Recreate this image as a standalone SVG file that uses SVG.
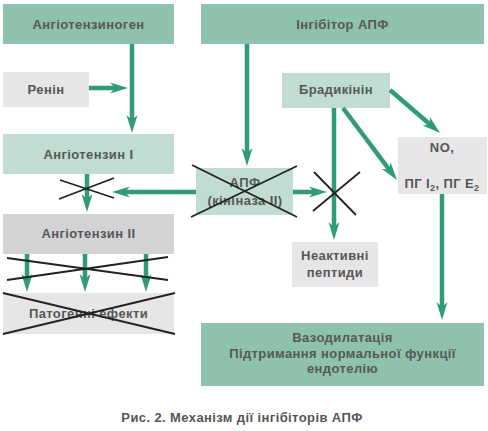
<svg xmlns="http://www.w3.org/2000/svg" width="488" height="431" viewBox="0 0 488 431">
<defs>
<style>
.dk{fill:#8fc2ad}
.lt{fill:#c1ddd1}
.gr{fill:#e6e6e6}
.g2{fill:#d3d3d5}
text{font-family:"Liberation Sans",Arial,sans-serif;font-weight:bold;font-size:13px;fill:#575757;text-anchor:middle;letter-spacing:0.4px}
.ar{stroke:#2f9b79;stroke-width:4.5;fill:none;marker-end:url(#ah)}
.x{stroke:#222;stroke-width:1.8;fill:none}
</style>
<marker id="ah" markerUnits="userSpaceOnUse" markerWidth="20" markerHeight="14" refX="8" refY="6" orient="auto" overflow="visible">
<path d="M0,0.5 L18,6 L0,11.5 L5,6 Z" fill="#2f9b79"/>
</marker>
</defs>
<rect width="488" height="431" fill="#fff"/>

<g id="angiotensinogen"><rect class="dk" x="3" y="4" width="171" height="40"/><text x="88.5" y="28.5">Ангіотензиноген</text></g>
<g id="inhibitor"><rect class="dk" x="201" y="4" width="283" height="40"/><text x="342.5" y="28.5">Інгібітор АПФ</text></g>
<g id="renin"><rect class="gr" x="3" y="72" width="86" height="35"/><text x="46" y="93.5">Ренін</text></g>
<g id="bradykinin"><rect class="lt" x="282" y="73" width="108" height="35"/><text x="336" y="93.5">Брадикінін</text></g>
<g id="angiotensin1"><rect class="lt" x="3" y="134" width="171" height="40"/><text x="88.5" y="158.5">Ангіотензин I</text></g>
<g id="ape"><rect class="lt" x="196" y="168" width="97" height="47"/><text x="245" y="186.5">АПФ</text><text x="245" y="204.5">(кініназа II)</text></g>
<g id="no"><rect class="gr" x="398" y="137" width="89" height="57"/><text x="442" y="152">NO,</text><text x="442" y="188">ПГ I<tspan font-size="9" dy="3">2</tspan><tspan dy="-3">, ПГ E</tspan><tspan font-size="9" dy="3">2</tspan></text></g>
<g id="angiotensin2"><rect class="g2" x="3" y="214" width="171" height="40"/><text x="88.5" y="237.5">Ангіотензин II</text></g>
<g id="peptides"><rect class="gr" x="292" y="242" width="86" height="45"/><text x="335" y="260">Неактивні</text><text x="335" y="277">пептиди</text></g>
<g id="pathogenic"><rect class="gr" x="3" y="293" width="171" height="41"/><text x="88.5" y="317.5">Патогенні ефекти</text></g>
<g id="vasodilation"><rect class="dk" x="201" y="323" width="283" height="63"/><text x="342.5" y="342">Вазодилатація</text><text x="342.5" y="357.5">Підтримання нормальної функції</text><text x="342.5" y="373">ендотелію</text></g>

<g id="connectors">
<line class="ar" x1="89" y1="88" x2="118" y2="88"/>
<line class="ar" x1="132" y1="44" x2="132" y2="123"/>
<line class="ar" x1="87" y1="174" x2="87" y2="202"/>
<line class="ar" x1="196" y1="192" x2="122" y2="192"/>
<line class="ar" x1="247" y1="44" x2="247" y2="156"/>
<line class="ar" x1="293" y1="192" x2="317" y2="192"/>
<line class="ar" x1="334" y1="108" x2="334" y2="230"/>
<line class="ar" x1="343" y1="108" x2="391" y2="172"/>
<line class="ar" x1="390" y1="90" x2="432.4" y2="126.5"/>
<line class="ar" x1="442" y1="194" x2="442" y2="310"/>
<line class="ar" x1="27" y1="254" x2="27" y2="282"/>
<line class="ar" x1="85" y1="254" x2="85" y2="282"/>
<line class="ar" x1="146" y1="254" x2="146" y2="282"/>
</g>

<g id="crosses">
<path class="x" d="M59,199 L114,178 M60,180 L114,198"/>
<path class="x" d="M192,165 L297,217 M191,217 L297,166"/>
<path class="x" d="M313,211 L360,172 M314,172 L356,215"/>
<path class="x" d="M7,258 L168,280 M7,280 L168,257"/>
<path class="x" d="M3,293 L175,334 M3,334 L175,293"/>
</g>

<text id="caption" x="242" y="422" style="font-size:13px;fill:#555">Рис. 2. Механізм дії інгібіторів АПФ</text>
</svg>
